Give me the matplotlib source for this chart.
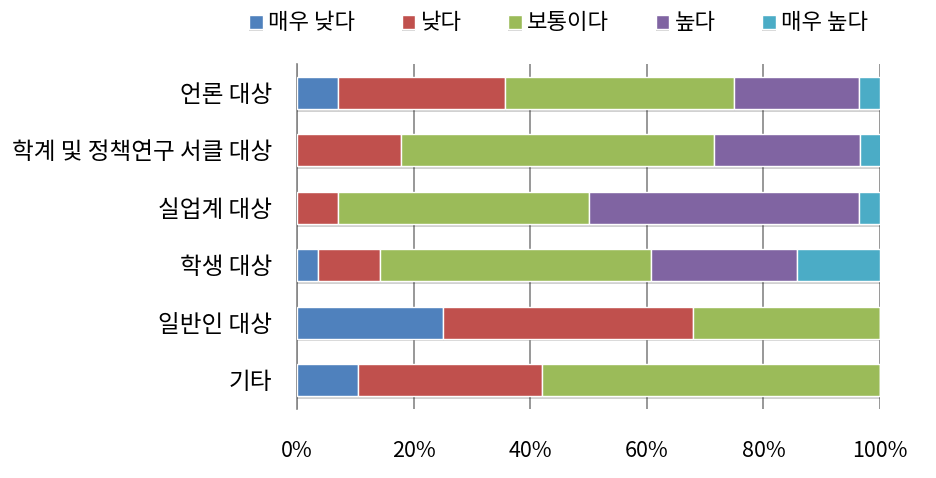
import matplotlib
matplotlib.use("Agg")
import matplotlib.pyplot as plt
import matplotlib.patheffects as pe
import numpy as np

plt.rcParams['font.family'] = ['Noto Sans CJK KR', 'DejaVu Sans']

categories = ['언론 대상', '학계 및 정책연구 서클 대상', '실업계 대상', '학생 대상', '일반인 대상', '기타']
series_names = ['매우 낮다', '낮다', '보통이다', '높다', '매우 높다']
very_low = [7.1, 0.0, 0.0, 3.6, 25.0, 10.5]
low = [28.6, 17.9, 7.1, 10.7, 42.9, 31.6]
normal = [39.3, 53.6, 42.9, 46.4, 32.1, 57.9]
high = [21.4, 25.0, 46.4, 25.0, 0.0, 0.0]
very_high = [3.6, 3.6, 3.6, 14.3, 0.0, 0.0]
xtick_labels = ['0%', '20%', '40%', '60%', '80%', '100%']

colors = ['#4F81BD', '#C0504D', '#9BBB59', '#8064A2', '#4BACC6']

fig = plt.figure(figsize=(9.36, 4.78), dpi=100)
ax = fig.add_axes([0.3173, 0.1444, 0.6229, 0.7217])

y = np.arange(len(categories))
left = np.zeros(len(categories))
shadow = [pe.SimplePatchShadow(offset=(0, -2), shadow_rgbFace='#000000', alpha=0.18), pe.Normal()]
for vals, name, c in zip([very_low, low, normal, high, very_high], series_names, colors):
    vals = np.array(vals)
    ax.barh(y, vals, left=left, height=0.556, color=c, edgecolor='white',
            linewidth=1, label=name, zorder=3, path_effects=shadow)
    left += vals

ax.set_xlim(0, 100)
ax.set_ylim(len(categories) - 0.5, -0.5)
ax.set_yticks(y)
ax.set_yticklabels(categories, fontsize=17)
ax.set_xticks(np.arange(0, 101, 20))
ax.set_xticklabels(xtick_labels, fontsize=15.5)
ax.tick_params(axis='y', length=0, pad=18)
ax.tick_params(axis='x', length=0, pad=22)
ax.grid(axis='x', color='#868686', linewidth=1.2, zorder=0)
for s in ['top', 'right', 'bottom']:
    ax.spines[s].set_visible(False)
ax.spines['left'].set_color('#868686')
ax.spines['left'].set_linewidth(1.2)

fig.legend(loc='center', bbox_to_anchor=(0.597, 0.952), ncol=5, frameon=False,
           fontsize=16, handlelength=0.6, handleheight=0.6, handletextpad=0.25,
           columnspacing=2.1)

fig.savefig('out.png', dpi=100)
